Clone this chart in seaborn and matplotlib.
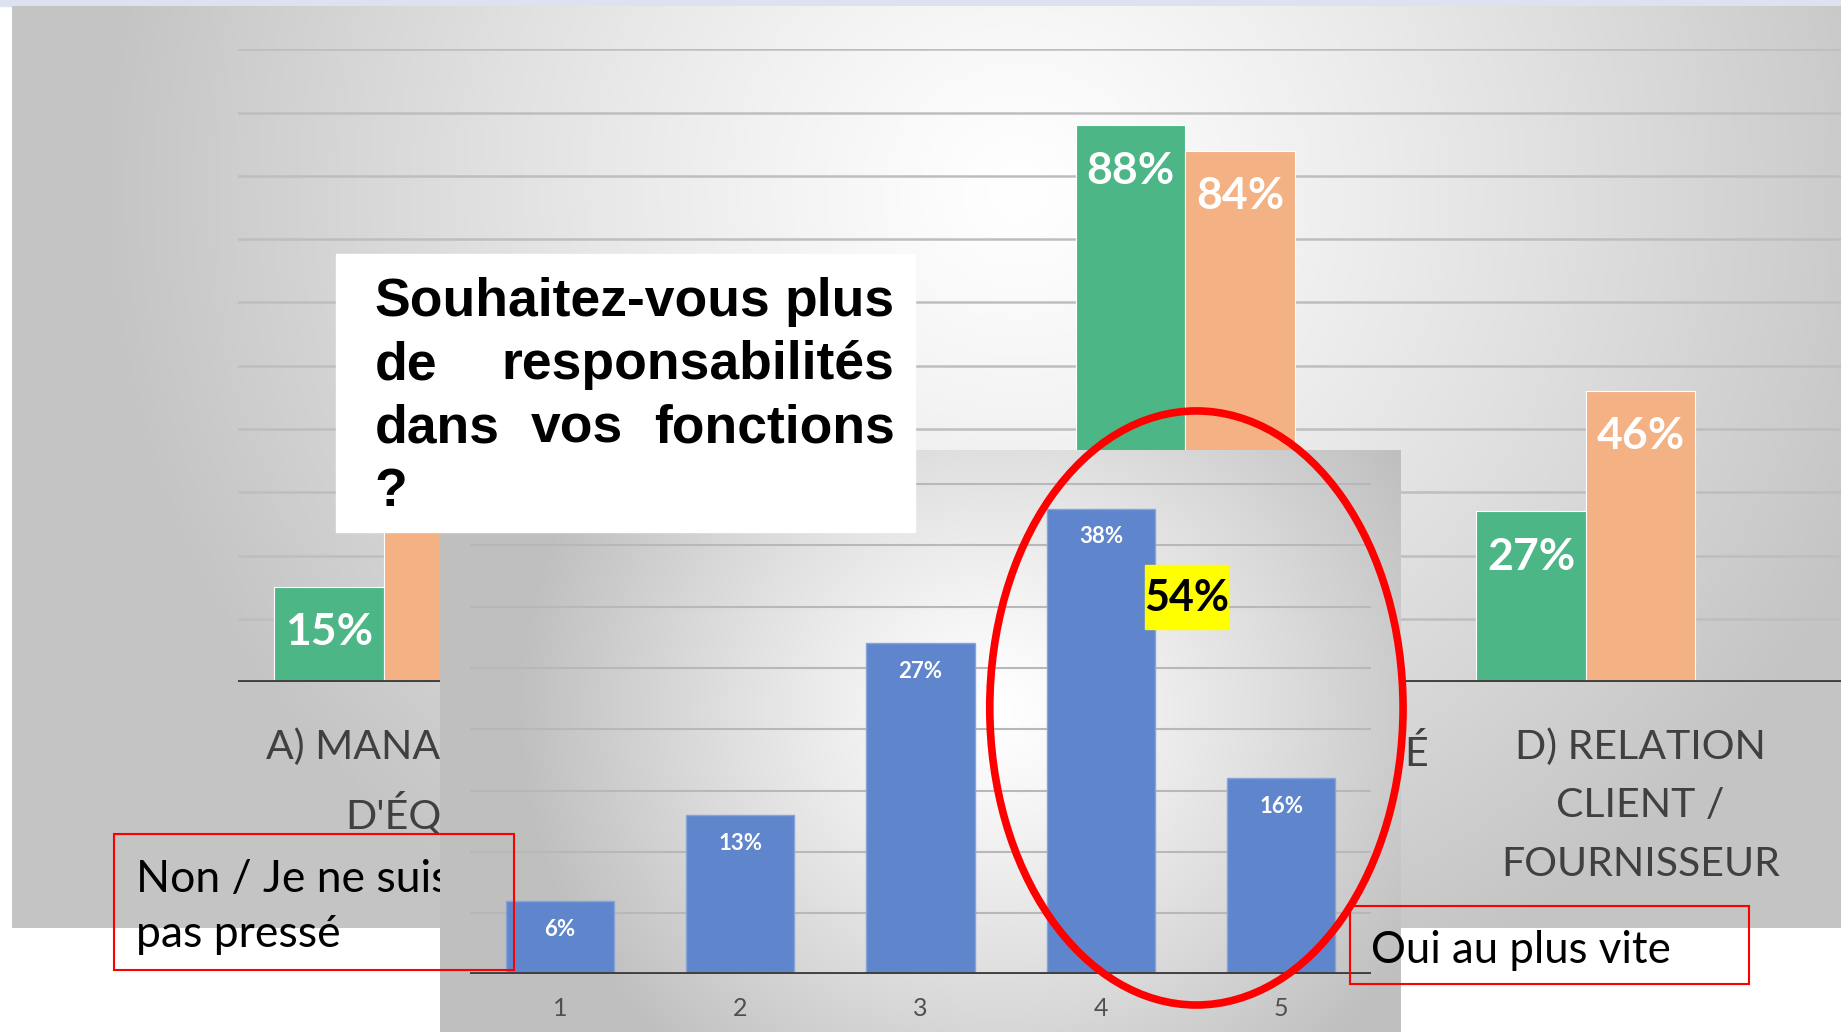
import numpy as np
import pandas as pd
import seaborn as sns
import matplotlib.pyplot as plt
from matplotlib import font_manager
from matplotlib.patches import Rectangle, Ellipse

# --- graphique de fond : domaines de responsabilité ---
categories = ["A) MANAGEMENT\nD'ÉQUIPE", "B)", "C) RESPONSABILITÉ", "D) RELATION\nCLIENT /\nFOURNISSEUR"]
series = ["Série 1", "Série 2", "Série 3"]
valeurs_vert = [15, None, 88, 27]
valeurs_orange = [50, None, 84, 46]

# --- encart : échelle 1 à 5 ---
niveaux = ["1", "2", "3", "4", "5"]
pourcentages = [6, 13, 27, 38, 16]
total_4_5 = "54%"

titre_lignes = [["Souhaitez-vous", "plus"], ["de", "responsabilités"],
                ["dans", "vos", "fonctions"], ["?"]]
texte_non = ["Non / Je ne suis", "pas pressé"]
texte_oui = "Oui au plus vite"

VERT, ORANGE, BLEU = "#4CB686", "#F3B184", "#5F86CC"

sns.set_theme(style="white")
plt.rcParams['font.family'] = ['Liberation Sans', 'DejaVu Sans']
noms = {f.name for f in font_manager.fontManager.ttflist}
NARROW = 'Liberation Sans Narrow' if 'Liberation Sans Narrow' in noms else 'Lato'

W, H = 1568, 879  # repère de mise en page


def box(x0, y0, x1, y1):
    return [x0 / W, 1 - y1 / H, (x1 - x0) / W, (y1 - y0) / H]


def degrade(ax, cx, cy, rx, ry, gris):
    yy, xx = np.mgrid[0:1:300j, 0:1:500j]
    d = np.sqrt(((xx - cx) / rx) ** 2 + ((yy - cy) / ry) ** 2)
    v = 1 - (1 - gris) * np.clip(d, 0, 1) ** 1.2
    ax.imshow(np.dstack([v, v, v]), extent=[0, 1, 0, 1], aspect='auto', origin='upper')
    ax.set_axis_off()


fig = plt.figure(figsize=(18.41, 10.32), dpi=100)
fig.patch.set_facecolor('white')
fig.add_artist(Rectangle((0, 1 - 5 / H), 1, 5 / H, transform=fig.transFigure,
                         color='#DCE2EF', zorder=0))

# panneau de fond
ax_fond = fig.add_axes(box(10, 5, 1568, 790), zorder=0)
degrade(ax_fond, 0.55, 0.2, 0.5, 0.95, 0.77)

# graphique principal
ax = fig.add_axes(box(203, 42, 1568, 581), zorder=1)
ax.set_facecolor('none')
df = pd.DataFrame({
    'domaine': categories * 2,
    'serie': [series[0]] * 4 + [series[1]] * 4,
    'valeur': valeurs_vert + valeurs_orange,
}).dropna()
sns.barplot(data=df, x='domaine', y='valeur', hue='serie', order=categories,
            hue_order=series, palette={series[0]: VERT, series[1]: ORANGE, series[2]: '#A5A5A5'},
            width=0.82, saturation=1, errorbar=None, legend=False,
            edgecolor='white', linewidth=0.8, ax=ax)
ax.set_xlim(-0.5, 3.5)
ax.set_ylim(0, 100)
ax.set_yticks(range(0, 101, 10))
ax.set_yticklabels([])
ax.yaxis.grid(True, color='#BEBEBE', lw=1.8)
ax.tick_params(axis='both', length=0)
ax.tick_params(axis='x', pad=33)
ax.set_xlabel('')
ax.set_ylabel('')
for s in ax.spines.values():
    s.set_visible(False)
ax.axhline(0, color='#404040', lw=2.8, zorder=3)
for lbl in ax.get_xticklabels():
    lbl.set(fontfamily=NARROW, fontsize=29.5, color='#404040', linespacing=1.72)
for serie, c in zip(series, ax.containers):
    sub = df[df['serie'] == serie]
    # l'étiquette de la barre orange A est cachée par le cadre du titre
    etiquettes = ['' if (serie == series[1] and d == categories[0]) else f'{v:.0f}%'
                  for d, v in zip(sub['domaine'], sub['valeur'])]
    ax.bar_label(c, labels=etiquettes, padding=-47, color='white', fontsize=32,
                 fontweight='bold', fontfamily=NARROW)

# texte gauche (sous l'encart)
for i, ligne in enumerate(texte_non):
    fig.text(116 / W, 1 - (760 + 47 * i) / H, ligne, fontsize=32, fontfamily=NARROW,
             color='black', zorder=2)

# encart
ax_panel = fig.add_axes(box(375, 383, 1193, 879), zorder=3)
degrade(ax_panel, 0.58, 0.45, 0.5, 0.8, 0.75)

ax2 = fig.add_axes(box(400, 405, 1168, 830), zorder=4)
ax2.set_facecolor('none')
sns.barplot(x=niveaux, y=pourcentages, color=BLEU, width=0.6, saturation=1,
            errorbar=None, edgecolor='#86A3DA', linewidth=1, ax=ax2)
ax2.set_xlim(-0.5, 4.5)
ax2.set_ylim(0, 40.7)
ax2.set_yticks(range(0, 41, 5))
ax2.set_yticklabels([])
ax2.yaxis.grid(True, color='#B8B8B8', lw=1.5)
ax2.tick_params(axis='both', length=0)
ax2.tick_params(axis='x', pad=16, labelsize=18, labelcolor='#505050')
for lbl in ax2.get_xticklabels():
    lbl.set_fontfamily(NARROW)
for s in ax2.spines.values():
    s.set_visible(False)
ax2.axhline(0, color='#404040', lw=2.8, zorder=3)
for c in ax2.containers:
    ax2.bar_label(c, fmt='{:.0f}%', padding=-28, color='white', fontsize=16,
                  fontweight='bold', fontfamily=NARROW)

# cadre du titre
fig.add_artist(Rectangle((286 / W, 1 - 453 / H), (779 - 286) / W, (453 - 216) / H,
                         transform=fig.transFigure, color='white', zorder=5))
renderer = fig.canvas.get_renderer()
x_g, x_d = 319 / W, 762 / W
for i, mots in enumerate(titre_lignes):
    y = 1 - (269 + 54 * i) / H
    textes = [fig.text(0, y, m, fontsize=38.5, fontweight='bold', color='black', zorder=6)
              for m in mots]
    larg = [t.get_window_extent(renderer).width / fig.bbox.width for t in textes]
    if len(mots) == 1:
        textes[0].set_x(x_g)
        continue
    ecart = (x_d - x_g - sum(larg)) / (len(mots) - 1)
    x = x_g
    for t, l in zip(textes, larg):
        t.set_x(x)
        x += l + ecart

# annotations
fig.add_artist(Ellipse((1019 / W, 1 - 603 / H), 352 / W, 506 / H, transform=fig.transFigure,
                       fill=False, edgecolor='#FF0000', lw=5.5, zorder=7))
fig.add_artist(Rectangle((975 / W, 1 - 536 / H), 71 / W, 55 / H, transform=fig.transFigure,
                         color='#FFFF00', zorder=7))
fig.text(1010.5 / W, 1 - 509 / H, total_4_5, fontsize=31, fontweight='bold', fontfamily=NARROW,
         ha='center', va='center', color='black', zorder=8)
fig.add_artist(Rectangle((97 / W, 1 - 826 / H), (438 - 97) / W, (826 - 710) / H,
                         transform=fig.transFigure, fill=False, edgecolor='#FF0000', lw=1.5, zorder=7))
fig.add_artist(Rectangle((1150 / W, 1 - 838 / H), (1490 - 1150) / W, (838 - 772) / H,
                         transform=fig.transFigure, fill=False, edgecolor='#FF0000', lw=1.5, zorder=7))
fig.text(1168 / W, 1 - 820 / H, texte_oui, fontsize=31.5, fontfamily=NARROW,
         color='black', zorder=8)

fig.savefig('out.png', dpi=100)
